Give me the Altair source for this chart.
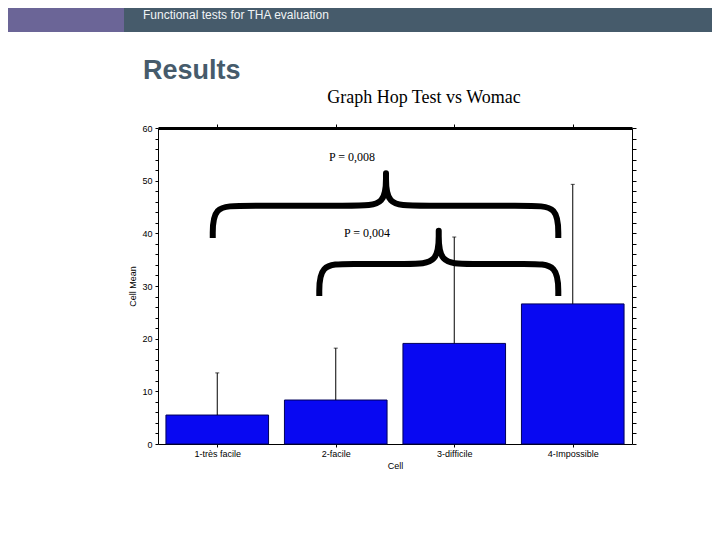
import json
import altair as alt
import pandas as pd

# ---- data ----
categories = ["1-très facile", "2-facile", "3-difficile", "4-Impossible"]
positions = [1, 2, 3, 4]
means = [5.5, 8.35, 19.1, 26.6]
upper = [13.5, 18.2, 39.3, 49.3]
half_width = 0.433

# brace anchors: left end, peak, right end, bottom of arms, arm level, tip
brace_big = dict(left=0.962, peak=2.424, right=3.878, bottom=39.1, arm=45.25, tip=51.4)
brace_small = dict(left=1.861, peak=2.869, right=3.878, bottom=28.1, arm=34.2, tip=40.5)
p_labels = ["P = 0,008", "P = 0,004"]
p_x = [2.137, 2.264]
p_y = [54.5, 40.1]

header_text = "Functional tests for THA evaluation"
section_title = "Results"
graph_title = "Graph  Hop Test vs Womac"

W, H = 474, 316
XD = [0.5, 4.5]
YD = [0, 60]

bars = pd.DataFrame({
    "cat": categories, "pos": positions, "mean": means, "upper": upper,
    "lo": [p - half_width for p in positions],
    "hi": [p + half_width for p in positions],
})


def brace_points(b, name):
    d = 0.25
    L, P, R, B, A, T = b["left"], b["peak"], b["right"], b["bottom"], b["arm"], b["tip"]
    xs = [L, L, L, L + d, P - d, P, P, P, P, P, P + d, R - d, R, R, R]
    ys = [B, B, A, A, A, A, T, T, T, A, A, A, A, B, B]
    return pd.DataFrame({"x": xs, "y": ys, "i": range(len(xs)), "b": name})


braces = pd.concat([brace_points(brace_big, "big"), brace_points(brace_small, "small")])
ptext = pd.DataFrame({"label": p_labels, "x": p_x, "y": p_y})

xs = alt.Scale(domain=XD, nice=False, zero=False)
ys = alt.Scale(domain=YD, nice=False)

label_expr = json.dumps(categories) + "[datum.value - 1]"

bar_layer = alt.Chart(bars).mark_rect(
    color="#0808f2", stroke="#00005a", strokeWidth=1
).encode(
    x=alt.X("lo:Q", scale=xs, axis=alt.Axis(
        orient="bottom", values=positions, labelExpr=label_expr, title="Cell",
        tickSize=3, labelPadding=2, titlePadding=3, domainColor="black",
        tickColor="black", labelColor="black", titleColor="black")),
    x2="hi:Q",
    y=alt.Y("mean:Q", scale=ys, axis=alt.Axis(
        orient="left", values=list(range(0, 61, 2)),
        labelExpr="datum.value % 10 == 0 ? datum.label : ''",
        title="Cell Mean", tickSize=3, labelPadding=3, titlePadding=4,
        domainColor="black", tickColor="black", labelColor="black",
        titleColor="black")),
    y2=alt.datum(0),
)

err_layer = alt.Chart(bars).mark_rule(color="black", strokeWidth=1).encode(
    x=alt.X("pos:Q", scale=xs, axis=alt.Axis(
        orient="top", values=positions, labels=False, title=None, tickSize=4,
        domainWidth=3, domainColor="black", tickColor="black")),
    y=alt.Y("mean:Q", scale=ys, axis=alt.Axis(
        orient="right", values=list(range(0, 61, 2)), labels=False, title=None,
        tickSize=4, domainColor="black", tickColor="black")),
    y2="upper:Q",
)

cap_layer = alt.Chart(bars).mark_tick(
    orient="horizontal", color="black", size=4, thickness=1
).encode(
    x=alt.X("pos:Q", scale=xs, axis=None),
    y=alt.Y("upper:Q", scale=ys, axis=None),
)

brace_layer = alt.Chart(braces).mark_line(
    color="black", strokeWidth=6, interpolate="basis", strokeCap="butt",
    strokeJoin="round"
).encode(
    x=alt.X("x:Q", scale=xs, axis=None),
    y=alt.Y("y:Q", scale=ys, axis=None),
    detail="b:N",
    order="i:Q",
)

ptext_layer = alt.Chart(ptext).mark_text(
    font="Liberation Serif", fontSize=12, color="black"
).encode(
    x=alt.X("x:Q", scale=xs, axis=None),
    y=alt.Y("y:Q", scale=ys, axis=None),
    text="label:N",
)

one = pd.DataFrame({"k": [0]})

hdr_purple = alt.Chart(one).mark_rect(color="#6b6597").encode(
    x=alt.value(-150), x2=alt.value(-34), y=alt.value(-120), y2=alt.value(-96))
hdr_slate = alt.Chart(one).mark_rect(color="#465b6b").encode(
    x=alt.value(-34), x2=alt.value(554), y=alt.value(-120), y2=alt.value(-96))
hdr_text = alt.Chart(one).mark_text(
    text=header_text, font="Liberation Sans", fontSize=12, color="#f0f4f6",
    align="left", baseline="middle"
).encode(x=alt.value(-15), y=alt.value(-113))
res_text = alt.Chart(one).mark_text(
    text=section_title, font="Liberation Sans", fontSize=27, fontWeight="bold",
    color="#465b6b", align="left", baseline="middle"
).encode(x=alt.value(-15), y=alt.value(-57))
g_text = alt.Chart(one).mark_text(
    text=graph_title, font="Liberation Serif", fontSize=18, color="black",
    align="center", baseline="middle"
).encode(x=alt.value(266), y=alt.value(-30))

chart = alt.layer(
    bar_layer, err_layer, cap_layer, brace_layer, ptext_layer,
    hdr_purple, hdr_slate, hdr_text, res_text, g_text
).resolve_axis(
    x="independent", y="independent"
).properties(
    width=W, height=H,
    padding={"left": 150, "top": 120, "right": 80, "bottom": 80},
    autosize=alt.AutoSizeParams(type="none"),
).configure_view(
    strokeWidth=0
).configure_axis(
    grid=False, labelFont="Liberation Sans", labelFontSize=9,
    titleFont="Liberation Sans", titleFontSize=9, titleFontWeight="normal"
)

chart.save("out.html", embed_options={"renderer": "svg", "actions": False})
